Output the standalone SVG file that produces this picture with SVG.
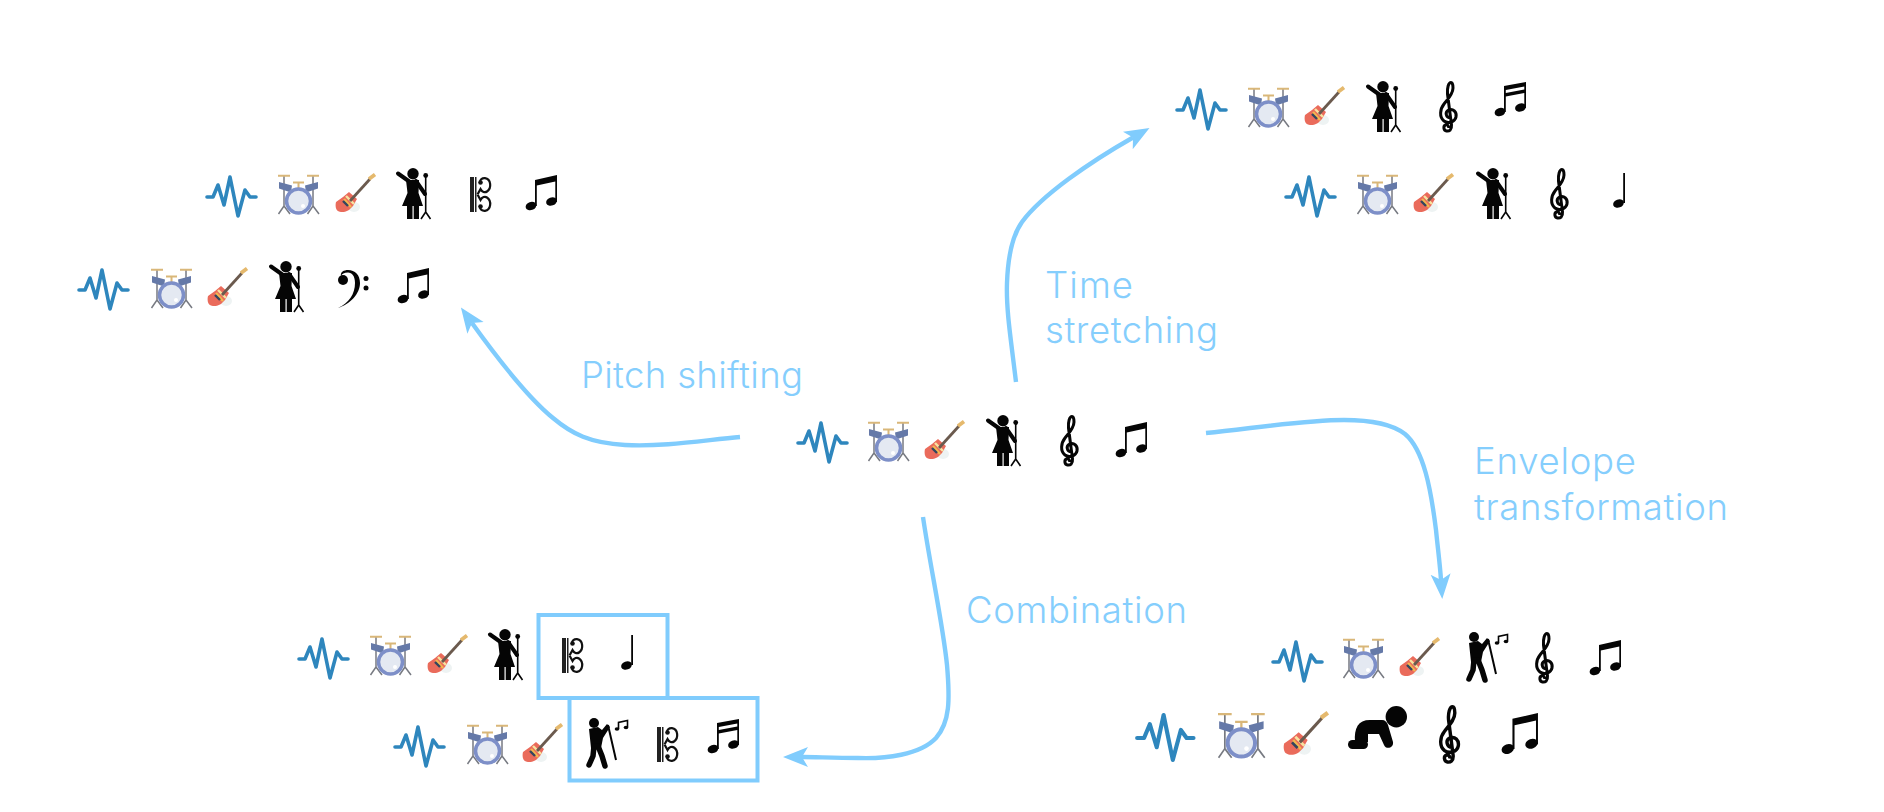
<svg xmlns="http://www.w3.org/2000/svg" width="1884" height="812" viewBox="0 0 1884 812">
<style>
.lbl{font-family:Inter,"Open Sans","Liberation Sans",sans-serif;font-weight:300;font-size:36.500px;fill:#85cefd;font-variant-ligatures:none}
.conn{fill:none;stroke:#80ccfd;stroke-width:4.400;marker-end:url(#head)}
.box{fill:none;stroke:#80ccfd;stroke-width:4}
.w{fill:none;stroke:#2e86bd;stroke-width:3.600;stroke-linejoin:round;stroke-linecap:round}
.k{fill:#050505}
</style>
<defs>
<marker id="head" markerUnits="userSpaceOnUse" markerWidth="26" markerHeight="22" refX="6" refY="10" orient="auto" viewBox="0 0 26 20"><path d="M25 10L0 0L6 10L0 20Z" fill="#80ccfd"/></marker>
<g id="wave"><path class="w" d="M1 0H7L12-12L18 8L24-20L32 19L39-7L44 0H50"/></g>
<g id="drum">
<path d="M6 3V34M35 3V34M6 33L.5 41M6 33L12 41M35 33L29.500 41M35 33L41 41" fill="none" stroke="#777a82" stroke-width="1.500"/>
<path d="M0 2.700H12M29 2.700H41M15 9.500H26M20.500 9.500V15" fill="none" stroke="#d9b779" stroke-width="2"/>
<path d="M1 9L14 12.500L13 19.500L1 15.500ZM40 9L27 12.500L28 19.500L40 15.500Z" fill="#6579a8"/>
<circle cx="20.500" cy="28" r="12" fill="#e4e9f2" stroke="#7d8fc8" stroke-width="3.500"/>
<circle cx="25" cy="33" r="2" fill="#fff"/>
</g>
<g id="guitar">
<ellipse cx="19" cy="34" rx="6" ry="5" fill="#eef3f3"/>
<path d="M14 19L8 24L1 29C0 33 1 37 3 38C6 40 11 39 14 37L18 33L22 26Z" fill="#ea6b5b"/>
<path d="M11 23L19 31" fill="none" stroke="#f7e3a0" stroke-width="2.400"/>
<path d="M9 26L16 34" fill="none" stroke="#f3b74f" stroke-width="2.400"/>
<path d="M15 28L35 6" fill="none" stroke="#6b5a4e" stroke-width="2.800"/>
<path d="M34 6L40 1.500" fill="none" stroke="#e5b96d" stroke-width="3.800"/>
<path d="M8 28L13 33" fill="none" stroke="#33465e" stroke-width="2.400"/>
</g>
<g id="singer">
<circle cx="16" cy="5.700" r="5.700" class="k"/>
<path d="M1 5.500L13 14M19 13L28 26" fill="none" stroke="#050505" stroke-width="4" stroke-linecap="round"/>
<path class="k" d="M9 12H22L21.500 25L26 38H5L10.500 25Z"/>
<path class="k" d="M10 36H15.500V51H10ZM16.700 36H22V51H16.700Z"/>
<circle cx="28.700" cy="7.500" r="2.400" class="k"/>
<path d="M28.700 8V45M28.700 44L24 51M28.700 44L33.500 51" fill="none" stroke="#050505" stroke-width="1.600"/>
</g>
<g id="singer2">
<circle cx="7" cy="5" r="5" class="k"/>
<path class="k" d="M2 11L11 9L15 12L20 6L23 9L16 20L14 30H4Z"/>
<path d="M7 28L6 38L2 47M11 28L15 38L18 48" fill="none" stroke="#050505" stroke-width="5.500" stroke-linecap="round" stroke-linejoin="round"/>
<path d="M21 7L29 42" fill="none" stroke="#050505" stroke-width="2"/>
<path d="M31.500 11V4.500L40.500 2.500V9" fill="none" stroke="#050505" stroke-width="1.600"/>
<ellipse cx="30" cy="11" rx="2.300" ry="1.700" class="k"/><ellipse cx="39" cy="9.500" rx="2.300" ry="1.700" class="k"/>
</g>
<g id="baby">
<circle cx="48.300" cy="10.700" r="10.700" class="k"/>
<path class="k" d="M7 36C6 22 10 14 22 14L34 14C37 14 39 16 40 19L45 36C46 42 38 44 36 39L31 28L20 28L20 36Z"/>
<rect x="0" y="34" width="20" height="9" rx="4.500" class="k"/>
</g>
<g id="treble"><path fill="none" stroke="#050505" stroke-width="3" d="M10.500 37C6 37 4.500 31 8.500 29C13 27 17 31 16 36C15 41 8 43 4 40C-1 36 0 28 4 23C8 18 13 13 13 7C13 3 12 1.500 11 1.500C8.500 1.500 7 7 7.500 13L11.500 44C12 49 9 50.500 6.500 50C3.500 49.500 3 45 5.500 44C7.500 43.300 9 45 8.500 47"/></g>
<g id="alto">
<rect x="0" y="0" width="4" height="35" fill="#222"/><rect x="5" y="0" width="1.500" height="35" fill="#222"/>
<path fill="none" stroke="#111" stroke-width="2.200" d="M7.500 17.500L10.500 12C12 15 15 16 17 14.500C22 11 21 2 15 1.200C12 1 10 2.500 10 5M7.500 17.500L10.500 23C12 20 15 19 17 20.500C22 24 21 33 15 33.800C12 34 10 32.500 10 30"/>
<circle cx="10.500" cy="5.500" r="2.300" fill="#111"/><circle cx="10.500" cy="29.500" r="2.300" fill="#111"/>
</g>
<g id="bass">
<path class="k" d="M1 38C12 33 18 24 18 13C18 6 15 2.500 11 2.500C7 2.500 5 4 4 6C3 2 7 0 11 0C18 0 23 5 23 13C23 24 13 34 1 38Z"/>
<circle cx="6" cy="10" r="5" class="k"/><circle cx="29" cy="8.500" r="2.500" class="k"/><circle cx="29" cy="18" r="2.500" class="k"/>
</g>
<g id="note8">
<ellipse cx="5" cy="31" rx="5.500" ry="4.100" transform="rotate(-20 5 31)" class="k"/>
<ellipse cx="25.500" cy="26.500" rx="5.500" ry="4.100" transform="rotate(-20 25.500 26.500)" class="k"/>
<path class="k" d="M9 5L31 0V27H29.300V6.500L10.800 10.500V31H9Z"/>
</g>
<g id="note16">
<ellipse cx="5" cy="31" rx="5.500" ry="4.100" transform="rotate(-20 5 31)" class="k"/>
<ellipse cx="25.500" cy="26.500" rx="5.500" ry="4.100" transform="rotate(-20 25.500 26.500)" class="k"/>
<path class="k" d="M9 5L31 1V27H29.300V12L10.800 15.500V31H9ZM10.800 9L10.800 12L29.300 8.500V5.500Z"/>
</g>
<g id="note4">
<ellipse cx="5.500" cy="30.500" rx="5.500" ry="4.100" transform="rotate(-20 5.500 30.500)" class="k"/>
<rect x="10.200" y="0" width="1.800" height="30" class="k"/>
</g>
</defs>
<rect width="1884" height="812" fill="#fff"/>
<g id="connectors">
<path class="conn" d="M740 437C705 440 665 447 625 445C590 443 572 434 553 418C525 395 495 355 472 323"/>
<path class="conn" d="M1016 382C1011 340 1006 310 1007 283C1008 255 1012 236 1022 222C1042 195 1090 162 1133 137.500"/>
<path class="conn" d="M1206 433C1255 428 1305 420 1344 420C1372 420 1392 424 1405 434C1424 450 1431 490 1436 530C1438 550 1440 565 1441 580"/>
<path class="conn" d="M923 517C930 565 943 625 947 665C950 700 950 722 936 738C920 755 885 759 858 758C835 758 815 757 802 757"/>
</g>
<g id="node-center">
<use href="#wave" x="797" y="443"/><use href="#drum" x="868" y="420"/><use href="#guitar" x="924" y="420"/><use href="#singer" x="987" y="415"/><use href="#treble" x="1061" y="415"/><use href="#note8" x="1116" y="422"/>
</g>
<g id="node-pitch-1">
<use href="#wave" x="206" y="197"/><use href="#drum" x="278" y="173"/><use href="#guitar" x="335" y="173"/><use href="#singer" x="397" y="168"/><use href="#alto" x="470" y="177"/><use href="#note8" x="526" y="175"/>
</g>
<g id="node-pitch-2">
<use href="#wave" x="78" y="290"/><use href="#drum" x="151" y="267"/><use href="#guitar" x="207" y="267"/><use href="#singer" x="270" y="261"/><use href="#bass" x="337" y="270"/><use href="#note8" x="398" y="268"/>
</g>
<g id="node-time-1">
<use href="#wave" x="1176" y="110"/><use href="#drum" x="1248" y="86"/><use href="#guitar" x="1304" y="86"/><use href="#singer" x="1367" y="81"/><use href="#treble" x="1440" y="81"/><use href="#note16" x="1495" y="81"/>
</g>
<g id="node-time-2">
<use href="#wave" x="1285" y="197"/><use href="#drum" x="1357" y="173"/><use href="#guitar" x="1413" y="173"/><use href="#singer" x="1477" y="168"/><use href="#treble" x="1551" y="168"/><use href="#note4" x="1613" y="173"/>
</g>
<g id="node-env-1">
<use href="#wave" x="1272" y="662"/><use href="#drum" x="1343" y="637"/><use href="#guitar" x="1399" y="637"/><use href="#singer2" x="1467" y="632"/><use href="#treble" x="1536" y="632"/><use href="#note8" x="1590" y="640"/>
</g>
<g id="node-env-2">
<use href="#wave" transform="translate(1136 738) scale(1.150)"/><use href="#drum" transform="translate(1218 711) scale(1.140)"/><use href="#guitar" transform="translate(1283 711) scale(1.120)"/><use href="#baby" x="1348" y="706"/><use href="#treble" transform="translate(1440 705) scale(1.140)"/><use href="#note8" transform="translate(1502 713) scale(1.160)"/>
</g>
<g id="node-comb-1">
<use href="#wave" x="298" y="659"/><use href="#drum" x="370" y="634"/><use href="#guitar" x="427" y="634"/><use href="#singer" x="489" y="629"/>
<rect class="box" x="538.500" y="615" width="129" height="83"/>
<use href="#alto" x="562" y="638"/><use href="#note4" x="621" y="635"/>
</g>
<g id="node-comb-2">
<use href="#wave" x="394" y="747"/><use href="#drum" x="467" y="723"/><use href="#guitar" x="522" y="723"/>
<rect class="box" x="569.500" y="698" width="188" height="82.500"/>
<use href="#singer2" x="587" y="718"/><use href="#alto" x="657" y="727"/><use href="#note16" x="708" y="718"/>
</g>
<g id="labels">
<text class="lbl" x="581" y="388" textLength="222">Pitch shifting</text>
<text class="lbl" x="1045" y="298" textLength="88">Time</text>
<text class="lbl" x="1045" y="343" textLength="173">stretching</text>
<text class="lbl" x="1474" y="474" textLength="162">Envelope</text>
<text class="lbl" x="1474" y="520" textLength="254">transformation</text>
<text class="lbl" x="966" y="623" textLength="221">Combination</text>
</g>
</svg>
